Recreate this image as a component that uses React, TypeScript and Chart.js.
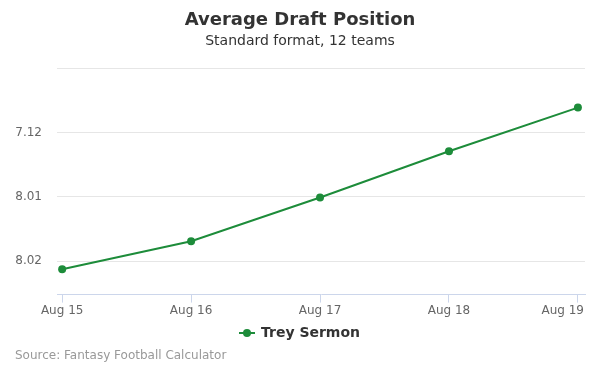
import React, { useEffect, useRef } from "react";
import { Chart, registerables } from "chart.js";

Chart.register(...registerables);

const categories = ["Aug 15", "Aug 16", "Aug 17", "Aug 18", "Aug 19"];
const adpPicks = [86.125, 85.69, 85.01, 84.29, 83.61];
const yTicks = [83, 84, 85, 86];
const seriesName = "Trey Sermon";
const titleText = "Average Draft Position";
const subtitleText = "Standard format, 12 teams";
const sourceText = "Source: Fantasy Football Calculator";
const TEAMS = 12;

const GREEN = "#1d8c3a";
const FONT = "'DejaVu Sans', Verdana, sans-serif";

function fmtPick(p: number): string {
  const r = Math.floor((p - 1) / TEAMS) + 1;
  const k = ((p - 1) % TEAMS) + 1;
  return `${r}.${k < 10 ? "0" + k : k}`;
}

function makeLegendIcon(): HTMLCanvasElement {
  const c = document.createElement("canvas");
  c.width = 16;
  c.height = 12;
  const ctx = c.getContext("2d")!;
  ctx.strokeStyle = GREEN;
  ctx.lineWidth = 2;
  ctx.beginPath();
  ctx.moveTo(0, 6);
  ctx.lineTo(16, 6);
  ctx.stroke();
  ctx.fillStyle = GREEN;
  ctx.beginPath();
  ctx.arc(8, 6, 4, 0, Math.PI * 2);
  ctx.fill();
  return c;
}

const sourcePlugin = {
  id: "sourceText",
  afterDraw(chart: any) {
    const ctx = chart.ctx;
    ctx.save();
    ctx.font = `12px ${FONT}`;
    ctx.fillStyle = "#999999";
    ctx.textAlign = "left";
    ctx.textBaseline = "middle";
    ctx.fillText(sourceText, 15, 356);
    // x-axis category labels, kept inside the plot like the reference
    const xs = chart.scales.x;
    const top = xs.top;
    ctx.fillStyle = "#666666";
    ctx.textAlign = "center";
    categories.forEach((label, i) => {
      const px = xs.getPixelForValue(i);
      const w = ctx.measureText(label).width;
      let cx = px;
      if (cx + w / 2 > 584) cx = 584 - w / 2;
      if (cx - w / 2 < 0) cx = w / 2;
      ctx.fillText(label, cx, top + 16);
    });
    ctx.restore();
  },
};

export default function App() {
  const ref = useRef<HTMLCanvasElement>(null);
  useEffect(() => {
    const icon = makeLegendIcon();
    const chart = new Chart(ref.current!, {
      type: "line",
      data: {
        datasets: [
          {
            label: seriesName,
            data: adpPicks.map((v, i) => ({ x: i, y: v })),
            borderColor: GREEN,
            backgroundColor: GREEN,
            borderWidth: 2,
            pointRadius: 4,
            pointBackgroundColor: GREEN,
            pointBorderWidth: 0,
            pointStyle: "circle",
            tension: 0,
            yAxisID: "y",
          } as any,
        ],
      },
      options: {
        animation: false,
        responsive: false,
        maintainAspectRatio: false,
        layout: { padding: { left: 0, right: 0, top: 0, bottom: 25 } },
        plugins: {
          title: {
            display: true,
            text: titleText,
            color: "#333333",
            font: { family: FONT, size: 18, weight: "bold" },
            padding: { top: 10, bottom: 1 },
          },
          subtitle: {
            display: true,
            text: subtitleText,
            color: "#333333",
            font: { family: FONT, size: 14 },
            padding: { top: 0, bottom: 19 },
          },
          legend: {
            position: "bottom",
            labels: {
              usePointStyle: true,
              color: "#333333",
              font: { family: FONT, size: 14, weight: "bold" },
              boxWidth: 16,
              padding: 6,
              generateLabels: (c: any) =>
                c.data.datasets.map((d: any, i: number) => ({
                  text: d.label,
                  fillStyle: GREEN,
                  strokeStyle: GREEN,
                  lineWidth: 0,
                  pointStyle: icon,
                  datasetIndex: i,
                  fontColor: "#333333",
                })),
            },
          },
          tooltip: { enabled: false },
        },
        scales: {
          x: {
            type: "linear",
            min: -0.04,
            max: 4.055,
            afterBuildTicks: (s: any) => {
              s.ticks = categories.map((_, i) => ({ value: i }));
            },
            afterFit: (s: any) => {
              s.height = 25.4;
            },
            ticks: {
              display: false,
              autoSkip: false,
            },
            grid: {
              drawOnChartArea: false,
              drawTicks: true,
              tickLength: 8,
              color: "#ccd6eb",
            },
            border: { display: true, color: "#ccd6eb", width: 1 },
          },
          y: {
            type: "linear",
            position: "left",
            reverse: true,
            min: 83,
            max: 86.52,
            afterBuildTicks: (s: any) => {
              s.ticks = yTicks.map((v) => ({ value: v }));
            },
            afterFit: (s: any) => {
              s.width = 57;
            },
            ticks: {
              color: "#666666",
              font: { family: FONT, size: 12 },
              padding: 15,
              callback: (v: any) => (Number(v) === 83 ? "" : fmtPick(Number(v))),
            },
            grid: { color: "#e6e6e6", drawTicks: false },
            border: { display: false },
          },
          yRight: {
            type: "linear",
            position: "right",
            display: true,
            min: 0,
            max: 1,
            afterFit: (s: any) => {
              s.width = 15;
            },
            ticks: { display: false },
            grid: { display: false, drawTicks: false },
            border: { display: false },
          },
        },
      },
      plugins: [sourcePlugin],
    } as any);
    return () => chart.destroy();
  }, []);
  return (
    <div style={{ position: "absolute", left: 0, top: 0, width: 600, height: 375, background: "#fff" }}>
      <canvas ref={ref} width={600} height={375} style={{ width: 600, height: 375 }} />
    </div>
  );
}
